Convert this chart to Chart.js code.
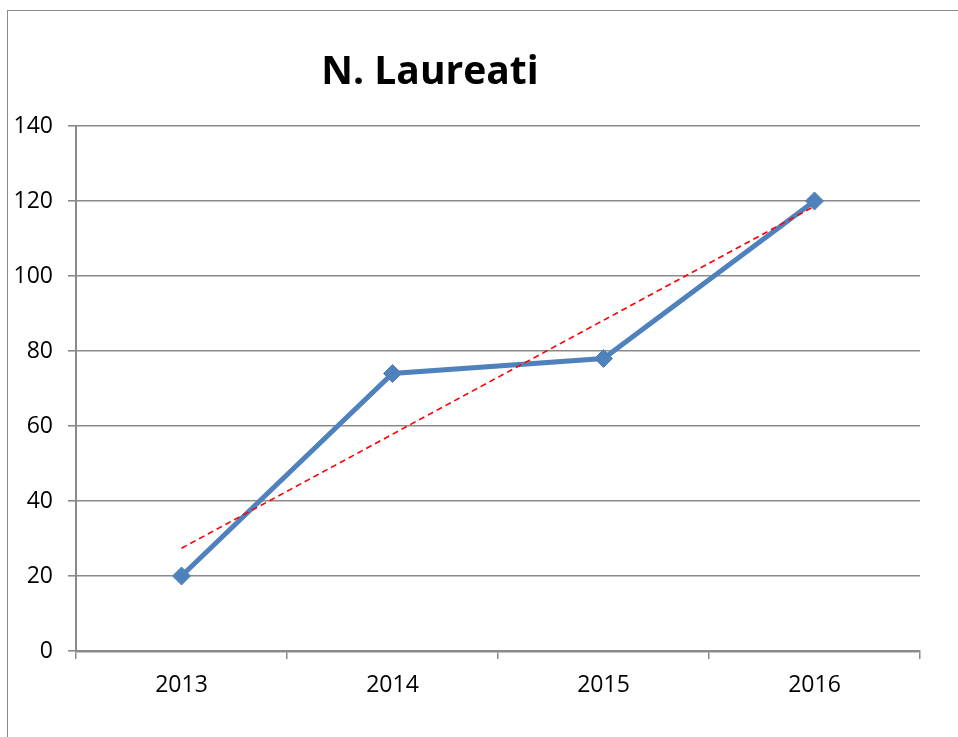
<!DOCTYPE html>
<html>
<head>
<meta charset="utf-8">
<title>N. Laureati</title>
<script src="https://cdn.jsdelivr.net/npm/chart.js@4.4.1/dist/chart.umd.min.js"></script>
<style>
  html, body { margin: 0; padding: 0; background: #fff; overflow: hidden; }
  #wrap { position: relative; width: 958px; height: 737px; }
  #frame {
    position: absolute; left: 7px; top: 10px; width: 1000px; height: 800px;
    border: 1.5px solid #8a8a8a; box-sizing: border-box;
  }
  canvas { position: absolute; left: 0; top: 0; }
</style>
</head>
<body>
<div id="wrap">
  <div id="frame"></div>
  <canvas id="myChart" width="958" height="737"></canvas>
</div>
<script>
const chartTitle = 'N. Laureati';
const years = ['2013', '2014', '2015', '2016'];
const laureati = [20, 74, 78, 120];
// linear trend line
const trendValues = [27.4, 57.8, 88.2, 118.6];
const yTicks = [0, 20, 40, 60, 80, 100, 120, 140];

const fontFamily = "'Open Sans', 'Noto Sans', sans-serif";
const gridColor = '#8a8a8a';

// Title drawn by hand so it sits left of centre like the original
const titlePlugin = {
    id: 'manualTitle',
    afterDraw(chart) {
        const ctx = chart.ctx;
        ctx.save();
        ctx.font = `bold 39px ${fontFamily}`;
        ctx.fillStyle = '#000';
        ctx.textAlign = 'center';
        ctx.textBaseline = 'middle';
        ctx.fillText(chartTitle, 430, 73);
        ctx.restore();
    }
};

const ctx = document.getElementById('myChart').getContext('2d');

new Chart(ctx, {
    type: 'line',
    data: {
        labels: years,
        datasets: [
            {
                label: 'Tendenza',
                data: trendValues,
                borderColor: '#ff0000',
                borderWidth: 1.6,
                borderDash: [6, 4],
                pointRadius: 0,
                fill: false,
                tension: 0,
                order: 0
            },
            {
                label: chartTitle,
                data: laureati,
                borderColor: '#4f81bd',
                backgroundColor: '#4f81bd',
                borderWidth: 5,
                pointStyle: 'rectRot',
                pointRadius: 9,
                pointBorderWidth: 1,
                pointBackgroundColor: '#4f81bd',
                pointBorderColor: '#4f81bd',
                fill: false,
                tension: 0,
                order: 1
            }
        ]
    },
    options: {
        responsive: false,
        animation: false,
        layout: {
            padding: { left: 0, right: 38, top: 126, bottom: 0 }
        },
        plugins: {
            legend: { display: false },
            title: { display: false },
            tooltip: { enabled: false }
        },
        scales: {
            x: {
                type: 'category',
                offset: true,
                afterFit(scale) { scale.height = 86; },
                grid: {
                    offset: true,
                    drawOnChartArea: false,
                    drawTicks: true,
                    tickLength: 8,
                    color: gridColor,
                    lineWidth: 1.5
                },
                border: { display: true, color: gridColor, width: 2.5 },
                ticks: {
                    color: '#000',
                    padding: 13,
                    font: { family: fontFamily, size: 23 }
                }
            },
            y: {
                min: 0,
                max: 140,
                afterFit(scale) { scale.width = 76; },
                afterBuildTicks(scale) {
                    scale.ticks = yTicks.map(v => ({ value: v }));
                },
                grid: {
                    color: gridColor,
                    lineWidth: 1.6,
                    drawTicks: true,
                    tickLength: 8
                },
                border: { display: true, color: gridColor, width: 2 },
                ticks: {
                    color: '#000',
                    padding: 15,
                    font: { family: fontFamily, size: 23 }
                }
            }
        }
    },
    plugins: [titlePlugin]
});
</script>
</body>
</html>
